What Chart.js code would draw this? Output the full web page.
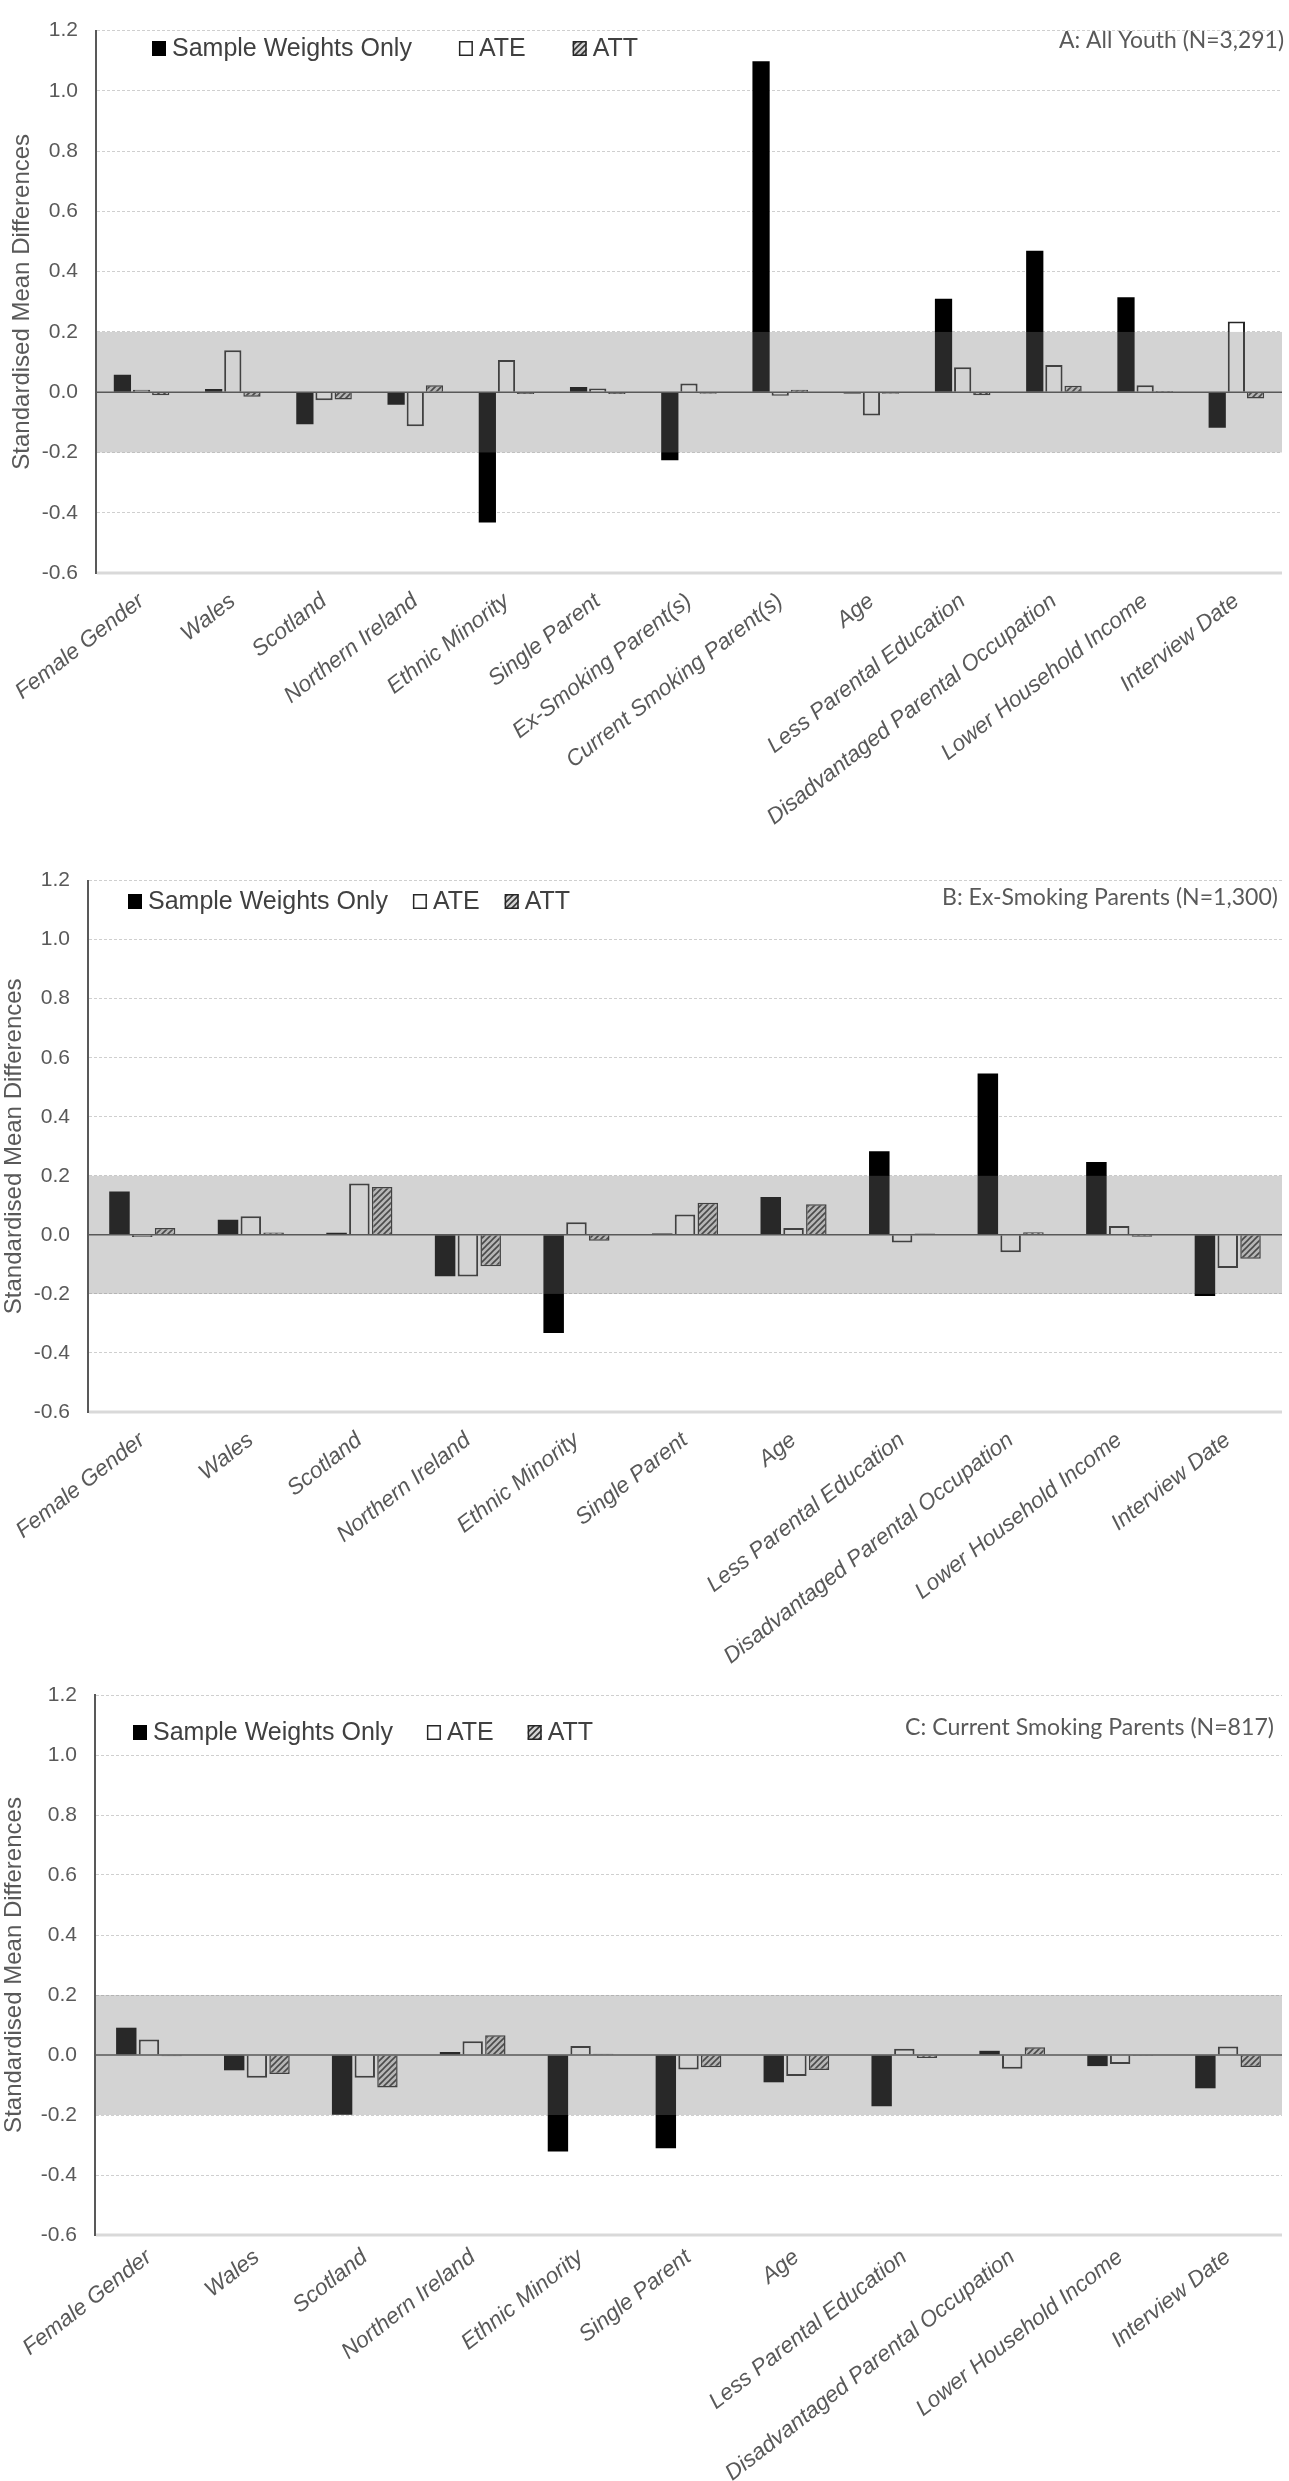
<!DOCTYPE html>
<html>
<head>
<meta charset="utf-8">
<title>Standardised Mean Differences</title>
<script src="https://cdn.jsdelivr.net/npm/chart.js@4.4.1/dist/chart.umd.min.js"></script>
<style>
  body { margin: 0; background: #fff; }
  .panel { position: absolute; left: 0; width: 1289px; }
</style>
</head>
<body>
<div class="panel" style="top:0;height:850px"><canvas id="chartA"></canvas></div>
<div class="panel" style="top:850px;height:840px"><canvas id="chartB"></canvas></div>
<div class="panel" style="top:1660px;height:821px"><canvas id="chartC"></canvas></div>
<script>
// covariates
const labelsA = ['Female Gender', 'Wales', 'Scotland', 'Northern Ireland', 'Ethnic Minority', 'Single Parent',
  'Ex-Smoking Parent(s)', 'Current Smoking Parent(s)', 'Age', 'Less Parental Education',
  'Disadvantaged Parental Occupation', 'Lower Household Income', 'Interview Date'];
const labelsBC = ['Female Gender', 'Wales', 'Scotland', 'Northern Ireland', 'Ethnic Minority', 'Single Parent',
  'Age', 'Less Parental Education', 'Disadvantaged Parental Occupation', 'Lower Household Income', 'Interview Date'];

// A: all youth
const sampleA = [0.058, 0.011, -0.106, -0.042, -0.432, 0.017, -0.226, 1.098, -0.004, 0.31, 0.469, 0.315, -0.118];
const ateA = [0.008, 0.139, -0.027, -0.113, 0.107, 0.012, 0.029, -0.012, -0.077, 0.083, 0.09, 0.023, 0.235];
const attA = [-0.01, -0.015, -0.024, 0.023, -0.006, -0.006, -0.005, 0.008, -0.005, -0.01, 0.021, 0.004, -0.021];

// B: ex-smoking parents
const sampleB = [0.147, 0.051, 0.007, -0.14, -0.332, 0.005, 0.128, 0.283, 0.547, 0.247, -0.207];
const ateB = [-0.007, 0.063, 0.174, -0.141, 0.043, 0.069, 0.023, -0.026, -0.059, 0.03, -0.112];
const attB = [0.023, 0.008, 0.162, -0.106, -0.02, 0.109, 0.104, 0.005, 0.009, -0.006, -0.081];

// C: current smoking parents
const sampleC = [0.091, -0.051, -0.199, 0.01, -0.322, -0.311, -0.091, -0.171, 0.014, -0.037, -0.111];
const ateC = [0.052, -0.076, -0.076, 0.046, 0.03, -0.048, -0.07, 0.021, -0.046, -0.03, 0.028];
const attC = [-0.004, -0.063, -0.108, 0.066, 0.004, -0.041, -0.05, -0.01, 0.026, -0.003, -0.04];

const yTicks = { min: -0.6, max: 1.2, step: 0.2 };
const balanceLimit = 0.2;

const FONT = "'Liberation Sans', Arial, sans-serif";
const INK = '#595959';

function hatchPattern() {
  const c = document.createElement('canvas');
  c.width = 6; c.height = 6;
  const g = c.getContext('2d');
  g.fillStyle = '#d4d4d4';
  g.fillRect(0, 0, 6, 6);
  g.strokeStyle = '#333';
  g.lineWidth = 1.6;
  g.beginPath();
  g.moveTo(0, 6); g.lineTo(6, 0);
  g.moveTo(-3, 3); g.lineTo(3, -3);
  g.moveTo(3, 9); g.lineTo(9, 3);
  g.stroke();
  return g.createPattern(c, 'repeat');
}
const hatch = hatchPattern();

// grey +/-0.2 band laid over the bars, the zero line and the bottom rule
const bandPlugin = {
  id: 'band',
  beforeDatasetsDraw(chart) {
    const { ctx, chartArea: a, scales: { y } } = chart;
    const b = y.getPixelForValue(yTicks.min);
    ctx.save();
    ctx.strokeStyle = '#d9d9d9';
    ctx.lineWidth = 3;
    ctx.beginPath();
    ctx.moveTo(a.left + 1, b);
    ctx.lineTo(a.right, b);
    ctx.stroke();
    ctx.restore();
  },
  afterDatasetsDraw(chart) {
    const { ctx, chartArea: a, scales: { y } } = chart;
    const top = y.getPixelForValue(balanceLimit);
    const bot = y.getPixelForValue(-balanceLimit);
    const zero = y.getPixelForValue(0);
    ctx.save();
    ctx.fillStyle = 'rgba(120,120,120,0.33)';
    ctx.fillRect(a.left + 1, top, a.right - a.left - 1, bot - top);
    ctx.strokeStyle = INK;
    ctx.lineWidth = 1.5;
    ctx.beginPath();
    ctx.moveTo(a.left, zero);
    ctx.lineTo(a.right, zero);
    ctx.stroke();
    ctx.restore();
  }
};

const boxLegend = {
  id: 'boxLegend',
  afterDraw(chart, args, o) {
    const ctx = chart.ctx;
    const size = 14;
    ctx.save();
    ctx.font = '25px ' + FONT;
    ctx.textBaseline = 'middle';
    let x = o.x;
    chart.data.datasets.forEach(ds => {
      ctx.fillStyle = ds.backgroundColor;
      ctx.fillRect(x, o.y - size / 2, size, size + 1);
      if (ds.borderWidth) {
        ctx.strokeStyle = ds.borderColor;
        ctx.lineWidth = 1.5;
        ctx.strokeRect(x + 0.75, o.y - size / 2 + 0.75, size - 1.5, size - 0.5);
      }
      x += size + 6;
      ctx.fillStyle = '#404040';
      ctx.fillText(ds.label, x, o.y + 1);
      x += ctx.measureText(ds.label).width + o.gap;
    });
    ctx.restore();
  }
};

const panelTag = {
  id: 'panelTag',
  afterDraw(chart, args, o) {
    const ctx = chart.ctx;
    ctx.save();
    ctx.font = "24px Lato, 'Open Sans', sans-serif";
    ctx.fillStyle = INK;
    ctx.textAlign = 'right';
    ctx.textBaseline = 'middle';
    const w = ctx.measureText(o.text).width;
    ctx.translate(o.x, o.y);
    ctx.scale(Math.min(1, o.width / w), 1);
    ctx.fillText(o.text, 0, 0);
    ctx.restore();
  }
};

function makePanel(id, labels, sample, ate, att, p) {
  return new Chart(document.getElementById(id), {
    type: 'bar',
    data: {
      labels: labels,
      datasets: [
        { label: 'Sample Weights Only', data: sample, backgroundColor: '#000', borderWidth: 0 },
        { label: 'ATE', data: ate, backgroundColor: '#fff', borderColor: '#262626', borderWidth: 2 },
        { label: 'ATT', data: att, backgroundColor: hatch, borderColor: '#262626', borderWidth: 1.5 }
      ]
    },
    options: {
      responsive: true,
      maintainAspectRatio: false,
      animation: false,
      layout: { autoPadding: false, padding: { top: p.top, right: 7, bottom: 0, left: 0 } },
      datasets: { bar: { categoryPercentage: 0.63, barPercentage: 0.9 } },
      plugins: {
        legend: { display: false },
        tooltip: { enabled: false },
        boxLegend: p.legend,
        panelTag: p.tag
      },
      scales: {
        x: {
          grid: { display: false, drawTicks: false },
          border: { display: false },
          ticks: {
            color: INK,
            font: { family: FONT, size: 22.5, style: 'italic' },
            minRotation: 38,
            maxRotation: 38,
            autoSkip: false,
            padding: p.labelPad
          },
          afterFit: s => { s.height = p.xHeight; }
        },
        y: {
          min: yTicks.min,
          max: yTicks.max,
          ticks: {
            stepSize: yTicks.step,
            color: INK,
            font: { family: FONT, size: 21 },
            padding: 18,
            callback: v => (Math.abs(v) < 1e-9 ? 0 : v).toFixed(1)
          },
          grid: {
            drawTicks: false,
            color: c => (Math.abs(c.tick.value) < 1e-9 || c.tick.value < yTicks.min + 1e-9) ? 'rgba(0,0,0,0)' : '#cfcfcf',
            lineWidth: 1
          },
          border: { color: INK, width: 2, dash: [3, 2] },
          title: {
            display: true,
            text: 'Standardised Mean Differences',
            color: INK,
            font: { family: FONT, size: 24 },
            padding: { top: 0, bottom: 0 }
          },
          afterFit: s => { s.width = p.left; }
        }
      }
    },
    plugins: [bandPlugin, boxLegend, panelTag]
  });
}

makePanel('chartA', labelsA, sampleA, ateA, attA, {
  top: 12, xHeight: 277, left: 88, labelPad: 15,
  legend: { x: 152, y: 48, gap: 47 },
  tag: { text: 'A: All Youth (N=3,291)', x: 1284, y: 40, width: 225 }
});
makePanel('chartB', labelsBC, sampleB, ateB, attB, {
  top: 20, xHeight: 278, left: 88, labelPad: 15,
  legend: { x: 128, y: 51, gap: 25 },
  tag: { text: 'B: Ex-Smoking Parents (N=1,300)', x: 1278, y: 47, width: 336 }
});
makePanel('chartC', labelsBC, sampleC, ateC, attC, {
  top: 35, xHeight: 246, left: 95, labelPad: 9,
  legend: { x: 133, y: 72, gap: 34 },
  tag: { text: 'C: Current Smoking Parents (N=817)', x: 1274, y: 67, width: 369 }
});
</script>
</body>
</html>
